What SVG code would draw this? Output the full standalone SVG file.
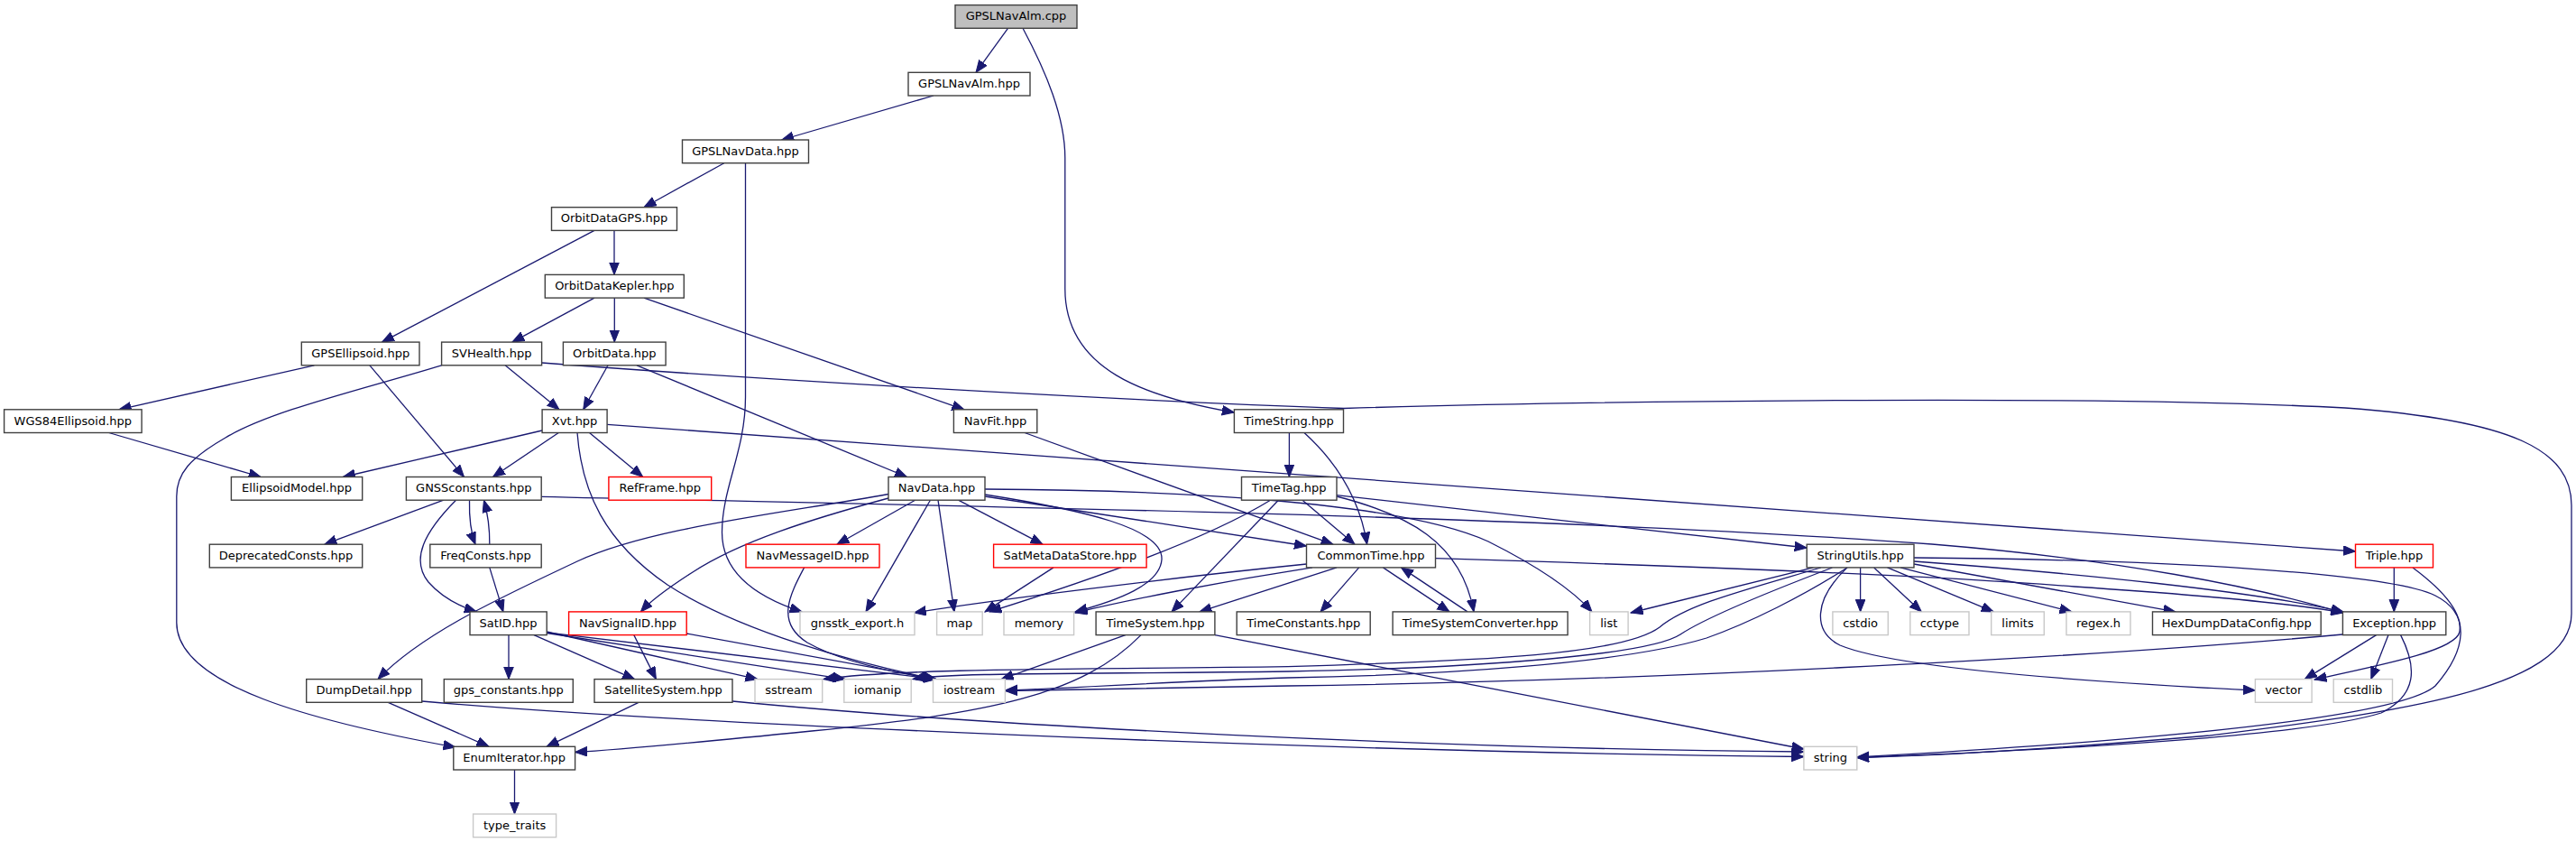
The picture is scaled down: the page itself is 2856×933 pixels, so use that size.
<svg xmlns="http://www.w3.org/2000/svg" width="2856" height="933" viewBox="0 0 2856 933">
<defs>
<marker id="ah" markerUnits="userSpaceOnUse" markerWidth="15" markerHeight="12" refX="13.5" refY="5.5" orient="auto">
<path d="M0,0.2 L13.5,5.5 L0,10.8 z" fill="#191970" stroke="#191970" stroke-width="1"/>
</marker>
<style>
rect{fill:#fff;stroke:#404040;stroke-width:1.4}
.s rect{stroke:#c8c8c8}
.r rect{stroke:#ff0000}
.root rect{fill:#bfbfbf}
text{font-family:"DejaVu Sans","Liberation Sans",sans-serif;font-size:13px;text-anchor:middle;fill:#000}
#edges path{fill:none;stroke:#191970;stroke-width:1.3;marker-end:url(#ah)}
</style>
</defs>
<rect x="0" y="0" width="2856" height="933" style="fill:#fff;stroke:none"/>
<g id="edges">
<path d="M1117.5,31.3 L1082,80.3"/>
<path d="M1134,31.3 C1160,80 1180.8,130 1180.8,175 L1180.8,320 C1180.8,410 1270,440 1368.4,457"/>
<path d="M1035,106 L866.6,155"/>
<path d="M802.8,180.7 L714,229.7"/>
<path d="M826.5,180.7 L826.5,440 C826.5,500 800.5,540 800.5,590 C800.5,635 840,662 889,677.9"/>
<path d="M681,255.4 L681,304.4"/>
<path d="M659,255.4 L423.5,379.1"/>
<path d="M659,330.1 L567.9,379.1"/>
<path d="M681.3,330.1 L681.3,379.1"/>
<path d="M714,330.1 L1069,453.8"/>
<path d="M348.4,404.8 L132,453.8"/>
<path d="M409.9,404.8 L514.5,528.5"/>
<path d="M560.1,404.8 L620,453.8"/>
<path d="M489.6,404.8 C400,432 300,455 250,485 C210,508 195.8,525 195.8,550 L195.8,690 C195.8,760 350,800 505,828"/>
<path d="M600.7,402 C900,425 1300,446 1490,452.5 C1700,446 2300,436 2600,452 C2790,466 2851,500 2851,560 L2851,680 C2851,765 2650,790 2450,815 C2250,832 2130,838 2058.8,839.5"/>
<path d="M674,404.8 L646.7,453.8"/>
<path d="M706,404.8 L1005.5,528.5"/>
<path d="M120.7,479.5 L289.2,528.5"/>
<path d="M601.1,477 L380.3,528.5"/>
<path d="M619.3,479.5 L546.5,528.5"/>
<path d="M653.5,479.5 L712.7,528.5"/>
<path d="M673.1,470.3 L2611.5,611"/>
<path d="M640,479.5 C645,545 670,600 740,648 C820,700 950,735 1037,752.6"/>
<path d="M1136,479.5 L1478,603.2"/>
<path d="M1429.4,479.5 L1429.4,528.5"/>
<path d="M1446,479.5 C1485,515 1508,555 1515.6,603.2"/>
<path d="M491.8,554.2 L359.8,603.2"/>
<path d="M520.5,554.2 C520,575 522,590 527,603.2"/>
<path d="M542.8,603.2 C543,585 541,570 536.5,554.2"/>
<path d="M505.5,554.2 C470,590 455,620 475,645 C490,662 510,672 528.3,677.9"/>
<path d="M600.2,550.3 C1000,560 1700,570 2142,603 C2350,620 2500,650 2598,679"/>
<path d="M542.8,628.9 L557.9,677.9"/>
<path d="M564,703.6 L564,752.6"/>
<path d="M592,703.6 L703.6,752.6"/>
<path d="M606.2,700 L840,752.6"/>
<path d="M606.2,701.5 L937,752.6"/>
<path d="M606.2,700.8 L1038,752.6"/>
<path d="M702.8,703.6 L727.4,752.6"/>
<path d="M761.3,702 L1038,752.6"/>
<path d="M1014.6,554.2 L928,603.2"/>
<path d="M1031.4,554.2 L960,677.9"/>
<path d="M1040,554.2 L1058,677.9"/>
<path d="M1062.5,554.2 L1156,603.2"/>
<path d="M985,552 C900,575 820,600 768,634 C740,652 722,665 710.4,677.9"/>
<path d="M985,547.5 C860,570 720,585 640,622 C560,660 470,700 419,752.6"/>
<path d="M1092,548 C1200,565 1290,585 1288,620 C1286,648 1240,665 1192,678"/>
<path d="M1092,550 L1448.5,605"/>
<path d="M1092,542 C1300,543 1550,555 1650,600 C1700,625 1740,650 1765,677.9"/>
<path d="M891.6,628.9 C875,660 860,690 895,712 C930,732 990,745 1037,752.6"/>
<path d="M1168,628.9 L1092,677.9"/>
<path d="M430.3,778.3 L542,827.3"/>
<path d="M467.7,777 C700,798 1400,832 2000,838.5"/>
<path d="M708,778.3 L606,827.3"/>
<path d="M812,777 C1100,805 1600,830 2000,833"/>
<path d="M570.5,853 L570.5,902"/>
<path d="M1444,554.2 L1502,603.2"/>
<path d="M1417.4,554.2 L1299,677.9"/>
<path d="M1408.5,554.2 C1350,590 1250,630 1097,677.9"/>
<path d="M1482,550 C1560,570 1620,600 1634,677.9"/>
<path d="M1481.7,548.7 L2003.2,607"/>
<path d="M1506.7,628.9 L1464,677.9"/>
<path d="M1533.4,628.9 L1607,677.9"/>
<path d="M1627,677.9 L1553.5,628.9"/>
<path d="M1482,628.9 L1330,677.9"/>
<path d="M1448.6,625 C1300,640 1100,665 1013.4,679"/>
<path d="M1455,628.9 C1350,645 1250,665 1192,679"/>
<path d="M1591,618.7 C1900,628 2142,638 2300,650 C2450,660 2550,670 2598,679"/>
<path d="M1247.8,703.6 L1110.2,752.6"/>
<path d="M1347,703.6 L2000,830"/>
<path d="M1265,703.6 C1200,770 1100,790 900,810 C780,822 700,830 637.6,833.5"/>
<path d="M2010.4,628.9 L1808,679"/>
<path d="M2062.6,628.9 L2062.6,677.9"/>
<path d="M2077.7,628.9 L2130.3,677.9"/>
<path d="M2092.5,628.9 L2210.3,677.9"/>
<path d="M2107,628.9 L2297,677.9"/>
<path d="M2122,625 L2412,677.9"/>
<path d="M2122,622 C2300,635 2500,655 2598,678"/>
<path d="M2122,618 C2400,620 2650,635 2700,660 C2740,680 2735,720 2700,760 C2660,795 2400,820 2058.8,839"/>
<path d="M2048,628.9 C2010,665 2010,700 2040,715 C2100,740 2300,755 2500.4,765"/>
<path d="M2018.8,629 C1930,655 1870,670 1840,695 C1800,725 1650,732 1428,738.7 C1200,742 1000,740 913,752.6"/>
<path d="M2031.4,629 C1950,660 1890,685 1863,703 C1830,725 1650,740 1428,744 C1200,747 1050,745 1012,752.6"/>
<path d="M2048,629 C2000,660 1940,690 1892,707 C1800,735 1600,748 1428,751 C1300,755 1200,762 1114.4,765"/>
<path d="M2597.4,703 C2300,730 1800,755 1428,760 C1300,762 1200,764 1114.4,765.5"/>
<path d="M2654.3,628.9 L2654.3,677.9"/>
<path d="M2675,629 C2710,655 2730,680 2727,700 C2723,720 2650,735 2566,753"/>
<path d="M2634.6,703.6 L2555.3,752.6"/>
<path d="M2648,703.6 L2628.8,752.6"/>
<path d="M2661.6,703.6 C2680,740 2680,770 2640,790 C2560,815 2300,830 2058.8,839.5"/>
</g>
<g id="n_root" class="root"><rect x="1059" y="5.6" width="135" height="25.7"/><text x="1126.5" y="22.3">GPSLNavAlm.cpp</text></g>
<g id="n_GPSLNavAlm_hpp"><rect x="1007" y="80.3" width="135" height="25.7"/><text x="1074.5" y="97">GPSLNavAlm.hpp</text></g>
<g id="n_GPSLNavData"><rect x="756.5" y="155" width="140" height="25.7"/><text x="826.5" y="171.7">GPSLNavData.hpp</text></g>
<g id="n_OrbitDataGPS"><rect x="611.5" y="229.7" width="139" height="25.7"/><text x="681" y="246.4">OrbitDataGPS.hpp</text></g>
<g id="n_OrbitDataKepler"><rect x="604.3" y="304.4" width="154" height="25.7"/><text x="681.3" y="321.1">OrbitDataKepler.hpp</text></g>
<g id="n_GPSEllipsoid"><rect x="334.3" y="379.1" width="130.7" height="25.7"/><text x="399.7" y="395.8">GPSEllipsoid.hpp</text></g>
<g id="n_SVHealth"><rect x="489.6" y="379.1" width="111" height="25.7"/><text x="545.1" y="395.8">SVHealth.hpp</text></g>
<g id="n_OrbitData"><rect x="624.4" y="379.1" width="113.7" height="25.7"/><text x="681.3" y="395.8">OrbitData.hpp</text></g>
<g id="n_WGS84Ellipsoid"><rect x="4.6" y="453.8" width="152.5" height="25.7"/><text x="80.8" y="470.5">WGS84Ellipsoid.hpp</text></g>
<g id="n_Xvt"><rect x="601.1" y="453.8" width="72" height="25.7"/><text x="637.1" y="470.5">Xvt.hpp</text></g>
<g id="n_NavFit"><rect x="1057.4" y="453.8" width="92.4" height="25.7"/><text x="1103.6" y="470.5">NavFit.hpp</text></g>
<g id="n_TimeString"><rect x="1368.4" y="453.8" width="121.1" height="25.7"/><text x="1429" y="470.5">TimeString.hpp</text></g>
<g id="n_EllipsoidModel"><rect x="256.4" y="528.5" width="145.3" height="25.7"/><text x="329" y="545.2">EllipsoidModel.hpp</text></g>
<g id="n_GNSSconstants"><rect x="450.4" y="528.5" width="149.8" height="25.7"/><text x="525.3" y="545.2">GNSSconstants.hpp</text></g>
<g id="n_RefFrame" class="r"><rect x="674.9" y="528.5" width="113.8" height="25.7"/><text x="731.8" y="545.2">RefFrame.hpp</text></g>
<g id="n_NavData"><rect x="985" y="528.5" width="107" height="25.7"/><text x="1038.5" y="545.2">NavData.hpp</text></g>
<g id="n_TimeTag"><rect x="1376.5" y="528.5" width="105.5" height="25.7"/><text x="1429.2" y="545.2">TimeTag.hpp</text></g>
<g id="n_DeprecatedConsts"><rect x="232.3" y="603.2" width="169.4" height="25.7"/><text x="317" y="619.9">DeprecatedConsts.hpp</text></g>
<g id="n_FreqConsts"><rect x="476.8" y="603.2" width="123.4" height="25.7"/><text x="538.5" y="619.9">FreqConsts.hpp</text></g>
<g id="n_NavMessageID" class="r"><rect x="827" y="603.2" width="148" height="25.7"/><text x="901" y="619.9">NavMessageID.hpp</text></g>
<g id="n_SatMetaDataStore" class="r"><rect x="1101.6" y="603.2" width="169.5" height="25.7"/><text x="1186.4" y="619.9">SatMetaDataStore.hpp</text></g>
<g id="n_CommonTime"><rect x="1448.5" y="603.2" width="143" height="25.7"/><text x="1520" y="619.9">CommonTime.hpp</text></g>
<g id="n_StringUtils"><rect x="2003.2" y="603.2" width="118.8" height="25.7"/><text x="2062.6" y="619.9">StringUtils.hpp</text></g>
<g id="n_Triple" class="r"><rect x="2611.5" y="603.2" width="86" height="25.7"/><text x="2654.5" y="619.9">Triple.hpp</text></g>
<g id="n_SatID"><rect x="521" y="677.9" width="85.2" height="25.7"/><text x="563.6" y="694.6">SatID.hpp</text></g>
<g id="n_NavSignalID" class="r"><rect x="630.6" y="677.9" width="130.6" height="25.7"/><text x="695.9" y="694.6">NavSignalID.hpp</text></g>
<g id="n_gnsstk_export" class="s"><rect x="887" y="677.9" width="127" height="25.7"/><text x="950.5" y="694.6">gnsstk_export.h</text></g>
<g id="n_map" class="s"><rect x="1038.6" y="677.9" width="50.6" height="25.7"/><text x="1063.9" y="694.6">map</text></g>
<g id="n_memory" class="s"><rect x="1113" y="677.9" width="77.6" height="25.7"/><text x="1151.8" y="694.6">memory</text></g>
<g id="n_TimeSystem"><rect x="1215.1" y="677.9" width="131.8" height="25.7"/><text x="1281" y="694.6">TimeSystem.hpp</text></g>
<g id="n_TimeConstants"><rect x="1371.2" y="677.9" width="148" height="25.7"/><text x="1445.2" y="694.6">TimeConstants.hpp</text></g>
<g id="n_TimeSystemConverter"><rect x="1544.1" y="677.9" width="194" height="25.7"/><text x="1641.1" y="694.6">TimeSystemConverter.hpp</text></g>
<g id="n_list" class="s"><rect x="1762.6" y="677.9" width="42.5" height="25.7"/><text x="1783.8" y="694.6">list</text></g>
<g id="n_cstdio" class="s"><rect x="2031.9" y="677.9" width="61.4" height="25.7"/><text x="2062.6" y="694.6">cstdio</text></g>
<g id="n_cctype" class="s"><rect x="2117.8" y="677.9" width="65.2" height="25.7"/><text x="2150.4" y="694.6">cctype</text></g>
<g id="n_limits" class="s"><rect x="2207.7" y="677.9" width="58.6" height="25.7"/><text x="2237" y="694.6">limits</text></g>
<g id="n_regex" class="s"><rect x="2291" y="677.9" width="71" height="25.7"/><text x="2326.5" y="694.6">regex.h</text></g>
<g id="n_HexDumpDataConfig"><rect x="2386.5" y="677.9" width="186.7" height="25.7"/><text x="2479.8" y="694.6">HexDumpDataConfig.hpp</text></g>
<g id="n_Exception"><rect x="2597.4" y="677.9" width="114.4" height="25.7"/><text x="2654.6" y="694.6">Exception.hpp</text></g>
<g id="n_DumpDetail"><rect x="339.7" y="752.6" width="128" height="25.7"/><text x="403.7" y="769.3">DumpDetail.hpp</text></g>
<g id="n_gps_constants"><rect x="492.3" y="752.6" width="143" height="25.7"/><text x="563.8" y="769.3">gps_constants.hpp</text></g>
<g id="n_SatelliteSystem"><rect x="659" y="752.6" width="153" height="25.7"/><text x="735.5" y="769.3">SatelliteSystem.hpp</text></g>
<g id="n_sstream" class="s"><rect x="837" y="752.6" width="74.7" height="25.7"/><text x="874.4" y="769.3">sstream</text></g>
<g id="n_iomanip" class="s"><rect x="935.8" y="752.6" width="74.4" height="25.7"/><text x="973" y="769.3">iomanip</text></g>
<g id="n_iostream" class="s"><rect x="1034.5" y="752.6" width="79.9" height="25.7"/><text x="1074.5" y="769.3">iostream</text></g>
<g id="n_vector" class="s"><rect x="2500.4" y="752.6" width="62.7" height="25.7"/><text x="2531.8" y="769.3">vector</text></g>
<g id="n_cstdlib" class="s"><rect x="2587.2" y="752.6" width="65.3" height="25.7"/><text x="2619.9" y="769.3">cstdlib</text></g>
<g id="n_EnumIterator"><rect x="502.8" y="827.3" width="134.8" height="25.7"/><text x="570.2" y="844">EnumIterator.hpp</text></g>
<g id="n_string" class="s"><rect x="1999.9" y="827.3" width="58.9" height="25.7"/><text x="2029.4" y="844">string</text></g>
<g id="n_type_traits" class="s"><rect x="524.6" y="902" width="92" height="25.7"/><text x="570.6" y="918.7">type_traits</text></g>
</svg>
